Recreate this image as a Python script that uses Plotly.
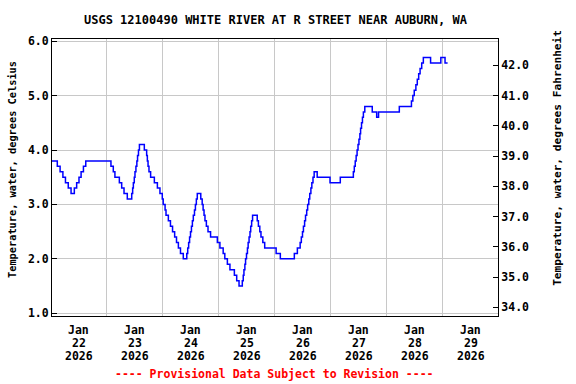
import pandas as pd
import plotly.graph_objects as go

# ---- data (hours since 2026-01-21 00:00, water temperature in deg C) ----
hours = [12.4, 14.7, 15.9, 17.1, 18.2, 19.4, 20.6, 22.0, 23.0, 24.0, 24.9, 25.9, 26.9,
         37.7, 38.7, 39.4, 41.3, 42.3, 43.3, 44.7,
         46.6, 47.0, 47.3, 47.7, 48.0, 48.4, 48.8, 49.1, 49.5, 49.9,
         52.0, 53.0, 53.3, 53.6, 54.0, 54.7, 56.3, 57.6, 58.7, 59.7, 60.1, 60.9,
         61.3, 62.3, 63.2, 64.1, 65.0, 65.8, 66.6, 67.5, 68.7,
         70.2, 70.6, 71.0, 71.4, 71.8, 72.2, 72.6, 73.0, 73.5, 73.9, 74.3, 74.7,
         76.2, 76.8, 77.2, 77.6, 78.0, 78.6, 79.3, 80.4, 83.3, 84.4, 85.8, 86.5, 87.6, 88.7, 90.6, 91.6, 92.6,
         94.0, 94.4, 94.7, 95.1, 95.4, 95.8, 96.2, 96.5, 96.9, 97.3, 97.6, 98.0, 98.4,
         100.4, 100.9, 101.5, 102.0, 102.8, 103.6, 108.5, 110.3,
         116.3, 117.6, 118.8, 119.3, 119.8, 120.2, 120.7, 121.1, 121.6, 122.0, 122.5, 122.9, 123.4, 123.8, 124.3, 124.8,
         126.1, 131.6, 136.0,
         141.6, 142.0, 142.4, 142.8, 143.2, 143.6, 144.0, 144.4, 144.7, 145.1, 145.5, 145.9, 146.5,
         149.7, 151.6, 152.4, 161.3,
         166.5, 167.1, 167.7, 168.4, 169.0, 169.6, 170.2, 170.9, 171.6,
         174.7, 179.1, 180.9, 182.0]
temps_c = [3.8, 3.7, 3.6, 3.5, 3.4, 3.3, 3.2, 3.3, 3.4, 3.5, 3.6, 3.7, 3.8,
           3.7, 3.6, 3.5, 3.4, 3.3, 3.2, 3.1,
           3.2, 3.3, 3.4, 3.5, 3.6, 3.7, 3.8, 3.9, 4.0, 4.1,
           4.0, 3.9, 3.8, 3.7, 3.6, 3.5, 3.4, 3.3, 3.2, 3.1, 3.0, 2.9,
           2.8, 2.7, 2.6, 2.5, 2.4, 2.3, 2.2, 2.1, 2.0,
           2.1, 2.2, 2.3, 2.4, 2.5, 2.6, 2.7, 2.8, 2.9, 3.0, 3.1, 3.2,
           3.1, 3.0, 2.9, 2.8, 2.7, 2.6, 2.5, 2.4, 2.3, 2.2, 2.1, 2.0, 1.9, 1.8, 1.7, 1.6, 1.5,
           1.6, 1.7, 1.8, 1.9, 2.0, 2.1, 2.2, 2.3, 2.4, 2.5, 2.6, 2.7, 2.8,
           2.7, 2.6, 2.5, 2.4, 2.3, 2.2, 2.1, 2.0,
           2.1, 2.2, 2.3, 2.4, 2.5, 2.6, 2.7, 2.8, 2.9, 3.0, 3.1, 3.2, 3.3, 3.4, 3.5, 3.6,
           3.5, 3.4, 3.5,
           3.6, 3.7, 3.8, 3.9, 4.0, 4.1, 4.2, 4.3, 4.4, 4.5, 4.6, 4.7, 4.8,
           4.7, 4.6, 4.7, 4.8,
           4.9, 5.0, 5.1, 5.2, 5.3, 5.4, 5.5, 5.6, 5.7,
           5.6, 5.7, 5.6, 5.6]

tick_days = ["2026-01-22", "2026-01-23", "2026-01-24", "2026-01-25",
             "2026-01-26", "2026-01-27", "2026-01-28", "2026-01-29"]
tick_months = ["Jan"] * 8
tick_daynums = ["22", "23", "24", "25", "26", "27", "28", "29"]
tick_years = ["2026"] * 8
grid_noons = ["2026-01-22 12:00", "2026-01-23 12:00", "2026-01-24 12:00", "2026-01-25 12:00",
              "2026-01-26 12:00", "2026-01-27 12:00", "2026-01-28 12:00"]
c_ticks = [1.0, 2.0, 3.0, 4.0, 5.0, 6.0]
f_ticks = [34.0, 35.0, 36.0, 37.0, 38.0, 39.0, 40.0, 41.0, 42.0]

title_text = "USGS 12100490 WHITE RIVER AT R STREET NEAR AUBURN, WA"
left_title = "Temperature, water, degrees Celsius"
right_title = "Temperature, water, degrees Fahrenheit"
footer_text = "---- Provisional Data Subject to Revision ----"

base = pd.Timestamp("2026-01-21")
times = base + pd.to_timedelta(hours, unit="h")

c_range = [0.95, 6.04]
f_range = [c * 1.8 + 32 for c in c_range]
x_range = [base + pd.Timedelta(hours=12.43), base + pd.Timedelta(hours=203.6)]

FONT = "DejaVu Sans Mono"
TOP, BOTTOM = 39, 68
PLOT_H = 384 - TOP - BOTTOM


def py_to_paper(py):
    return (384 - BOTTOM - py) / PLOT_H


fig = go.Figure()
fig.add_trace(go.Scatter(x=times, y=temps_c, mode="lines", line_shape="hv",
                         line=dict(color="#0000ff", width=1.5), showlegend=False))
# invisible trace to activate the Fahrenheit axis
fig.add_trace(go.Scatter(x=[times[0]], y=[temps_c[0] * 1.8 + 32], yaxis="y2",
                         mode="lines", line=dict(width=0), showlegend=False, hoverinfo="skip"))

annotations = [
    dict(text=title_text, xref="paper", yref="paper", x=0.502, y=py_to_paper(20),
         showarrow=False, font=dict(family=FONT, size=12, weight="bold"),
         xanchor="center", yanchor="middle"),
    dict(text=left_title, xref="paper", yref="paper", x=-0.0897, y=py_to_paper(169),
         textangle=-90, showarrow=False, font=dict(family=FONT, size=10.3, weight="bold"),
         xanchor="center", yanchor="middle"),
    dict(text=right_title, xref="paper", yref="paper", x=1.132, y=py_to_paper(158),
         textangle=-90, showarrow=False, font=dict(family=FONT, size=11.2, weight="bold"),
         xanchor="center", yanchor="middle"),
    dict(text=footer_text, xref="paper", yref="paper", x=0.498, y=py_to_paper(374),
         showarrow=False, font=dict(family=FONT, size=11.5, weight="bold", color="#ff0000"),
         xanchor="center", yanchor="middle"),
]
for d, m, n, yr in zip(tick_days, tick_months, tick_daynums, tick_years):
    for txt, py in ((m, 330), (n, 343), (yr, 356)):
        annotations.append(dict(text=txt, xref="x", yref="paper", x=d, y=py_to_paper(py),
                                showarrow=False, font=dict(family=FONT, size=11.5, weight="bold"),
                                xanchor="center", yanchor="middle"))

fig.update_layout(
    width=576, height=384,
    margin=dict(l=52, r=78, t=TOP, b=BOTTOM),
    paper_bgcolor="white", plot_bgcolor="white",
    font=dict(family=FONT, size=11, color="black"),
    xaxis=dict(
        type="date", range=x_range,
        tickmode="array", tickvals=tick_days, ticktext=[""] * len(tick_days),
        ticks="", showgrid=False, showticklabels=False,
        showline=True, linecolor="black", linewidth=1, mirror=True,
        minor=dict(tickmode="array", tickvals=grid_noons, showgrid=True,
                   gridcolor="#c8c8c8", gridwidth=1, ticks=""),
        zeroline=False, automargin=False,
    ),
    yaxis=dict(
        range=c_range, tickmode="array", tickvals=c_ticks, tickformat=".1f",
        ticks="inside", ticklen=5, tickcolor="black",
        showgrid=True, gridcolor="#c8c8c8", gridwidth=1,
        showline=True, linecolor="black", linewidth=1, mirror=True,
        tickfont=dict(family=FONT, size=11.5, weight="bold"),
        zeroline=False, automargin=False,
    ),
    yaxis2=dict(
        range=f_range, overlaying="y", side="right",
        tickmode="array", tickvals=f_ticks, tickformat=".1f",
        ticks="inside", ticklen=5, tickcolor="black",
        showgrid=False, showline=True, linecolor="black", linewidth=1,
        tickfont=dict(family=FONT, size=11.5, weight="bold"),
        zeroline=False, automargin=False,
    ),
    annotations=annotations,
)

fig.write_html("out.html", config={"displayModeBar": False},
               post_script="document.body.style.margin='0';document.body.style.padding='0';")
